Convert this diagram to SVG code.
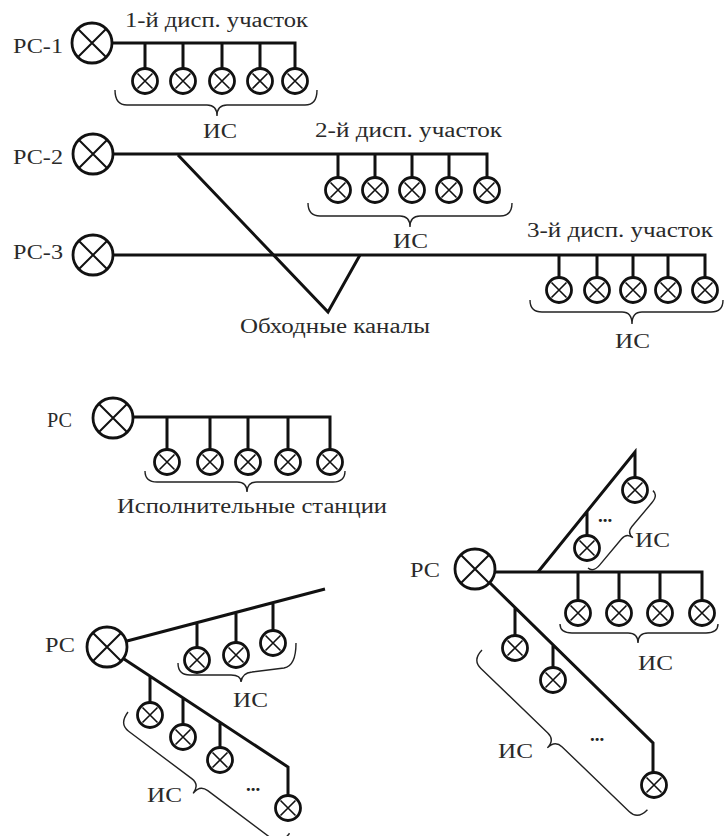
<svg xmlns="http://www.w3.org/2000/svg" xmlns:xlink="http://www.w3.org/1999/xlink" width="724" height="836" viewBox="0 0 724 836">
<style>
.ln{fill:none;stroke:#111;stroke-width:3;stroke-linejoin:miter;stroke-linecap:butt}
.br{fill:none;stroke:#222;stroke-width:1.4}
.c{fill:#fff;stroke:#111;stroke-width:2.8}
.x{fill:none;stroke:#111;stroke-width:1.6}
.xb{fill:none;stroke:#111;stroke-width:2}
text{font-family:"Liberation Serif","Times New Roman",serif;font-size:20px;fill:#2a2a2a}
.dots{font-size:19px;font-weight:bold;fill:#222}
</style>
<defs>
<g id="st"><circle class="c" r="12.5"/><path class="x" d="M-7.5,-7.5L7.5,7.5M7.5,-7.5L-7.5,7.5"/></g>
<g id="big"><circle class="c" r="20" stroke-width="3"/><path class="xb" d="M-14,-14L14,14M14,-14L-14,14"/></g>
</defs>
<rect width="724" height="836" fill="#fff"/>

<g id="connectors">
<path class="ln" d="M112,43H295V68.5M145,43V68.5M183,43V68.5M222,43V68.5M260,43V68.5"/>
<path class="ln" d="M113,154H487V177.5M338,154V177.5M375,154V177.5M412,154V177.5M449,154V177.5"/>
<path class="ln" d="M113,255H705V277.5M559,255V277.5M597,255V277.5M633,255V277.5M668,255V277.5"/>
<path class="ln" d="M178,155L328,312L360,255"/>
<path class="ln" d="M133,417H330V449.5M167,417V449.5M210,417V449.5M248,417V449.5M288,417V449.5"/>
<path class="ln" d="M127,641L325,589M197,622.6V647.5M236,612.6V642.5M273,602.6V630.5"/>
<path class="ln" d="M124,659L288,767V795.5M150,676V702.5M183,698V724.5M220,722V747.5"/>
<path class="ln" d="M495,572H702V600.5M578,572V600.5M619,572V600.5M660,572V600.5"/>
<path class="ln" d="M538,572L635,452V477.5M587,511.5V535.5"/>
<path class="ln" d="M489,582L653,743V772.5M515,607.5V635.5M553,645V667.5"/>
</g>

<g id="braces">
<path class="br" d="M115,90Q115,105 127,105L207,105Q217,105 217,116Q217,105 227,105L305,105Q317,105 317,90"/>
<path class="br" d="M308,203Q308,216 320,216L400,216Q410,216 410,227Q410,216 420,216L500,216Q512,216 512,203"/>
<path class="br" d="M530,300Q530,312 542,312L622,312Q632,312 632,324Q632,312 642,312L711,312Q723,312 723,300"/>
<path class="br" d="M145,471Q145,482 157,482L237,482Q247,482 247,492Q247,482 257,482L333,482Q345,482 345,471"/>
<path class="br" d="M560,624Q560,633 572,633L628,633Q638,633 638,643Q638,633 648,633L706,633Q718,633 718,624"/>
<path class="br" d="M178,663Q178,675 190,675L231,675Q241,675 241,682Q242,673 252,672L284,668Q296,666 296,643"/>
<path class="br" transform="translate(128,712) rotate(36.9)" d="M0,0Q0,15 12,15L91,15Q101,15 101,26Q101,15 111,15L190,15Q202,15 202,0"/>
<path class="br" transform="translate(482,650) rotate(44)" d="M0,0Q0,14 12,14L105,14Q115,14 115,25Q115,14 125,14L218,14Q230,14 230,0"/>
<path class="br" transform="translate(588,568) rotate(-50)" d="M0,0Q0,7 10,7L44,7Q52,7 52,15Q52,7 60,7L91,7Q101,7 101,0"/>
</g>

<g id="rc1"><use xlink:href="#big" x="92" y="43"/></g>
<g id="rc2"><use xlink:href="#big" x="93" y="154"/></g>
<g id="rc3"><use xlink:href="#big" x="93" y="255"/></g>
<g id="rc-s2"><use xlink:href="#big" x="113" y="418"/></g>
<g id="rc-s3"><use xlink:href="#big" x="107" y="647"/></g>
<g id="rc-s4"><use xlink:href="#big" x="475" y="569"/></g>

<g id="is1">
<use xlink:href="#st" x="145" y="81"/><use xlink:href="#st" x="183" y="81"/><use xlink:href="#st" x="222" y="81"/><use xlink:href="#st" x="260" y="81"/><use xlink:href="#st" x="295" y="81"/>
</g>
<g id="is2">
<use xlink:href="#st" x="338" y="190"/><use xlink:href="#st" x="375" y="190"/><use xlink:href="#st" x="412" y="190"/><use xlink:href="#st" x="449" y="190"/><use xlink:href="#st" x="487" y="190"/>
</g>
<g id="is3">
<use xlink:href="#st" x="559" y="290"/><use xlink:href="#st" x="597" y="290"/><use xlink:href="#st" x="633" y="290"/><use xlink:href="#st" x="668" y="290"/><use xlink:href="#st" x="705" y="290"/>
</g>
<g id="is-s2">
<use xlink:href="#st" x="167" y="462"/><use xlink:href="#st" x="210" y="462"/><use xlink:href="#st" x="248" y="462"/><use xlink:href="#st" x="288" y="462"/><use xlink:href="#st" x="330" y="462"/>
</g>
<g id="is-s3a">
<use xlink:href="#st" x="197" y="660"/><use xlink:href="#st" x="236" y="655"/><use xlink:href="#st" x="273" y="643"/>
</g>
<g id="is-s3b">
<use xlink:href="#st" x="150" y="715"/><use xlink:href="#st" x="183" y="737"/><use xlink:href="#st" x="220" y="760"/><use xlink:href="#st" x="288" y="808"/>
</g>
<g id="is-s4a">
<use xlink:href="#st" x="635" y="490"/><use xlink:href="#st" x="587" y="548"/>
</g>
<g id="is-s4b">
<use xlink:href="#st" x="578" y="613"/><use xlink:href="#st" x="619" y="613"/><use xlink:href="#st" x="660" y="613"/><use xlink:href="#st" x="702" y="613"/>
</g>
<g id="is-s4c">
<use xlink:href="#st" x="515" y="648"/><use xlink:href="#st" x="553" y="680"/><use xlink:href="#st" x="654" y="785"/>
</g>

<g id="labels">
<text x="13" y="53" textLength="50" lengthAdjust="spacingAndGlyphs">РС-1</text>
<text x="125" y="27" textLength="183" lengthAdjust="spacingAndGlyphs">1-й дисп. участок</text>
<text x="203" y="138" textLength="34" lengthAdjust="spacingAndGlyphs">ИС</text>
<text x="13" y="164" textLength="50" lengthAdjust="spacingAndGlyphs">РС-2</text>
<text x="315" y="137" textLength="187" lengthAdjust="spacingAndGlyphs">2-й дисп. участок</text>
<text x="393" y="248" textLength="35" lengthAdjust="spacingAndGlyphs">ИС</text>
<text x="13" y="259" textLength="50" lengthAdjust="spacingAndGlyphs">РС-3</text>
<text x="527" y="237" textLength="186" lengthAdjust="spacingAndGlyphs">3-й дисп. участок</text>
<text x="240" y="333" textLength="190" lengthAdjust="spacingAndGlyphs">Обходные каналы</text>
<text x="615" y="348" textLength="35" lengthAdjust="spacingAndGlyphs">ИС</text>
<text x="47" y="427" textLength="25" lengthAdjust="spacingAndGlyphs">РС</text>
<text x="117" y="513" textLength="270" lengthAdjust="spacingAndGlyphs">Исполнительные станции</text>
<text x="45" y="652" textLength="30" lengthAdjust="spacingAndGlyphs">РС</text>
<text x="233" y="707" textLength="35" lengthAdjust="spacingAndGlyphs">ИС</text>
<text x="147" y="802" textLength="35" lengthAdjust="spacingAndGlyphs">ИС</text>
<text x="410" y="577" textLength="30" lengthAdjust="spacingAndGlyphs">РС</text>
<text x="635" y="547" textLength="35" lengthAdjust="spacingAndGlyphs">ИС</text>
<text x="638" y="670" textLength="35" lengthAdjust="spacingAndGlyphs">ИС</text>
<text x="498" y="758" textLength="35" lengthAdjust="spacingAndGlyphs">ИС</text>
<text class="dots" x="246" y="791">...</text>
<text class="dots" x="598" y="522">...</text>
<text class="dots" x="590" y="741">...</text>
</g>
</svg>
